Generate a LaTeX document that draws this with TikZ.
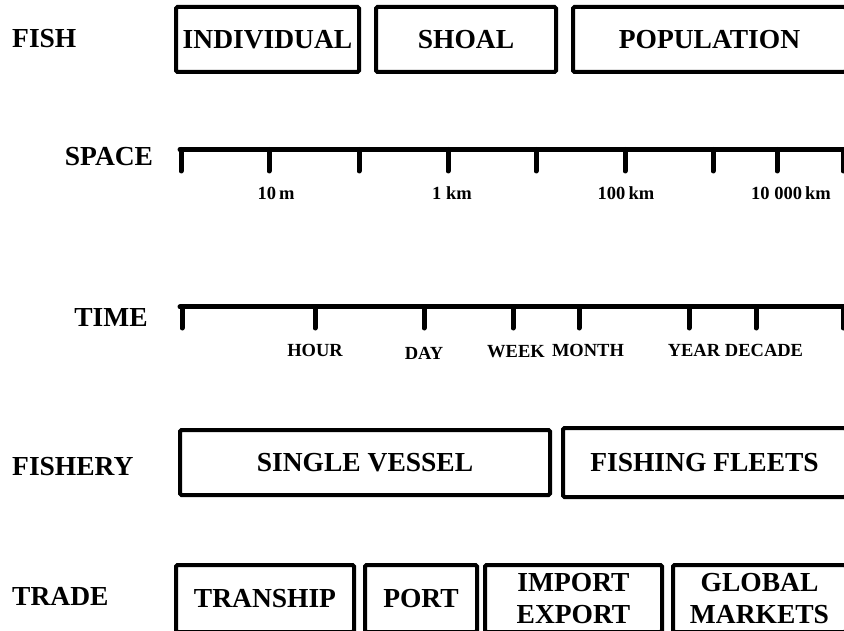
\documentclass[tikz,border=0pt]{standalone}
\usepackage{fontspec}
\setmainfont{Liberation Serif}
\newcommand\bigtxt{\fontsize{27.5}{32}\selectfont\bfseries}
\newcommand\smalltxt{\fontsize{18.5}{22}\selectfont\bfseries}
\tikzset{
  box/.style={draw, line width=4pt, rounded corners=1.5pt, inner sep=0pt, font=\bigtxt, align=center},
  rowlab/.style={font=\bigtxt, inner sep=0pt},
  ticklab/.style={font=\smalltxt, inner sep=0pt},
  axisline/.style={line width=5pt, line cap=round, line join=round}
}
\begin{document}
\begin{tikzpicture}[x=1pt,y=-1pt]
\useasboundingbox (0,0) rectangle (844,631);
\clip (0,0) rectangle (844,631);
% row labels
\node[rowlab, anchor=west] (lfish) at (12,38.5) {FISH};
\node[rowlab] (lspace) at (109,157) {SPACE};
\node[rowlab] (ltime) at (111,317) {TIME};
\node[rowlab, anchor=west] (lfishery) at (12,466.5) {FISHERY};
\node[rowlab, anchor=west] (ltrade) at (12,596) {TRADE};
% fish boxes
\node[box, minimum width=183pt, minimum height=65pt] (ind) at (267.5,39.5) {INDIVIDUAL};
\node[box, minimum width=180pt, minimum height=65pt] (shoal) at (466,39.5) {SHOAL};
\node[box, minimum width=273pt, minimum height=65pt] (pop) at (709.5,39.5) {POPULATION};
% space axis
\draw[axisline] (180,149.5) -- (846,149.5);
\foreach \x/\n in {181/s0,269/s1,359/s2,448/s3,536/s4,625/s5,713/s6,777/s7,843/s8}{
  \coordinate (\n) at (\x,149.5);
  \draw[axisline] (\n) -- ++(0,21.5);
}
\node[ticklab] (t10m) at (276,193) {10\,m};
\node[ticklab] (t1km) at (452,193) {1 km};
\node[ticklab] (t100km) at (626,193) {100\,km};
\node[ticklab] (t10000km) at (791,193) {10 000\,km};
% time axis
\draw[axisline] (180,307) -- (846,307);
\foreach \x/\n in {182/u0,315/u1,424/u2,513/u3,579/u4,689/u5,756/u6,843/u7}{
  \coordinate (\n) at (\x,307);
  \draw[axisline] (\n) -- ++(0,21);
}
\node[ticklab] (thour) at (315,350) {HOUR};
\node[ticklab] (tday) at (424,353) {DAY};
\node[ticklab] (tweek) at (516,352) {WEEK};
\node[ticklab] (tmonth) at (588,350) {MONTH};
\node[ticklab] (tyear) at (694,350) {YEAR};
\node[ticklab] (tdecade) at (764,350) {DECADE};
% fishery boxes
\node[box, minimum width=370pt, minimum height=65pt] (single) at (365,462.5) {SINGLE VESSEL};
\node[box, minimum width=283pt, minimum height=69pt] (fleets) at (704.5,462.5) {FISHING FLEETS};
% trade boxes
\node[box, minimum width=178pt, minimum height=67pt] (tranship) at (265,598.5) {TRANSHIP};
\node[box, minimum width=112pt, minimum height=67pt] (port) at (421,598.5) {PORT};
\node[box, minimum width=177pt, minimum height=67pt] (impexp) at (573.5,598.5) {IMPORT\\EXPORT};
\node[box, minimum width=173pt, minimum height=67pt] (global) at (759.5,598.5) {GLOBAL\\MARKETS};
\end{tikzpicture}
\end{document}
